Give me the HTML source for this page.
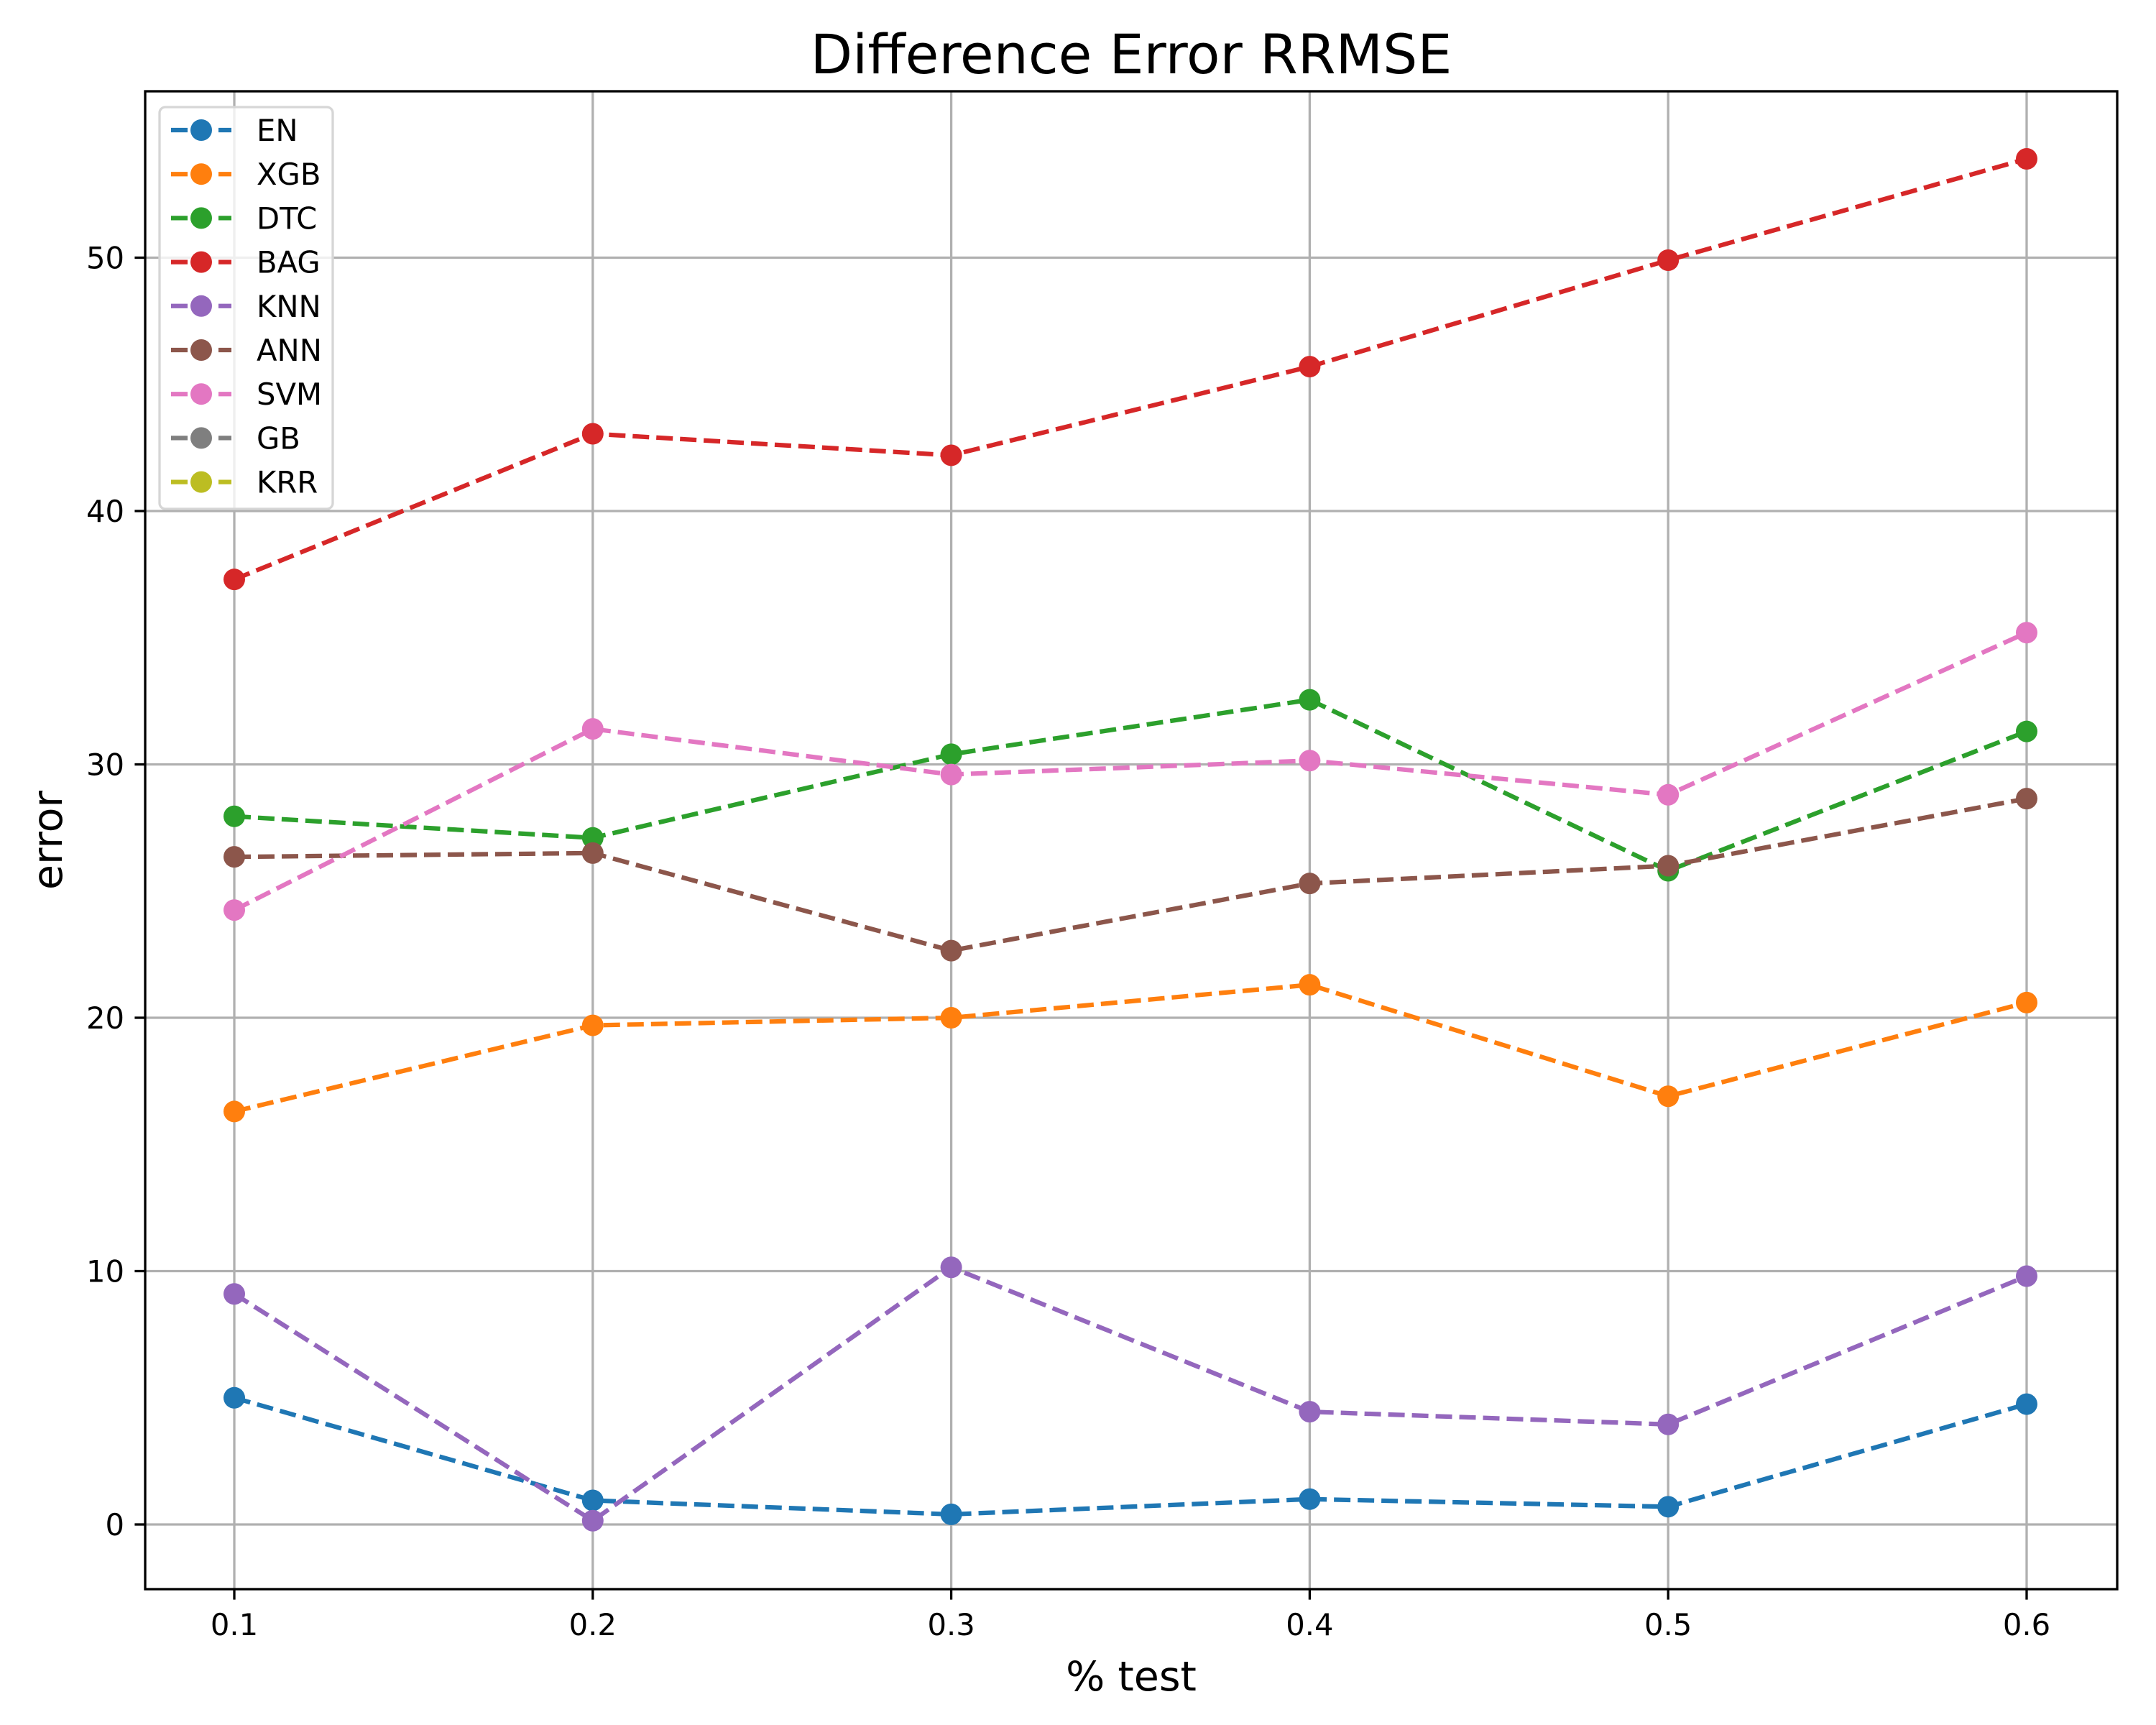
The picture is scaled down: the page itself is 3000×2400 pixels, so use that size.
<!DOCTYPE html>
<html><head><meta charset="utf-8"><style>
html,body{margin:0;padding:0;background:#fff}
svg{display:block;font-family:"DejaVu Sans","Liberation Sans",sans-serif}
</style></head><body>
<svg id="chart" width="3000" height="2400" viewBox="0 0 3000 2400" xmlns="http://www.w3.org/2000/svg">
<rect width="3000" height="2400" fill="#fff"/>
<g id="grid"></g>
<g id="series"></g>
<rect x="202" y="127" width="2744" height="2084" fill="none" stroke="#000" stroke-width="3.3"/>
<g id="ticks"></g>
<text x="1574" y="102" font-size="76" text-anchor="middle">Difference Error RRMSE</text>
<text x="1574" y="2352" font-size="57" text-anchor="middle">% test</text>
<text x="86" y="1169" font-size="57" text-anchor="middle" transform="rotate(-90 86 1169)">error</text>
<g id="legend"></g>
</svg>
<script>
const categories = [0.1, 0.2, 0.3, 0.4, 0.5, 0.6];
const xTickLabels = ["0.1","0.2","0.3","0.4","0.5","0.6"];
const yTicks = [0, 10, 20, 30, 40, 50];
const seriesNames = ["EN","XGB","DTC","BAG","KNN","ANN","SVM","GB","KRR"];
const seriesColors = ["#1f77b4","#ff7f0e","#2ca02c","#d62728","#9467bd","#8c564b","#e377c2","#7f7f7f","#bcbd22"];
const enValues  = [5.0, 0.95, 0.4, 1.0, 0.7, 4.75];
const xgbValues = [16.3, 19.7, 20.0, 21.3, 16.9, 20.6];
const dtcValues = [27.95, 27.1, 30.4, 32.55, 25.8, 31.3];
const bagValues = [37.3, 43.05, 42.2, 45.7, 49.9, 53.9];
const knnValues = [9.1, 0.15, 10.15, 4.45, 3.95, 9.8];
const annValues = [26.35, 26.5, 22.65, 25.3, 26.0, 28.65];
const svmValues = [24.25, 31.4, 29.6, 30.15, 28.8, 35.2];
const gbValues  = [];
const krrValues = [];
const allValues = [enValues,xgbValues,dtcValues,bagValues,knnValues,annValues,svmValues,gbValues,krrValues];

const NS = "http://www.w3.org/2000/svg";
const L=202,R=2946,T=127,B=2211;
function xs(v){ return 326 + (v-0.1)*(2820-326)/0.5; }
function ys(v){ return 2121 - v*(2121-358.5)/50; }
function mk(tag, attrs, parent){ const e=document.createElementNS(NS,tag); for(const k in attrs) e.setAttribute(k,attrs[k]); parent.appendChild(e); return e; }
const grid=document.getElementById('grid'), ticks=document.getElementById('ticks'), series=document.getElementById('series'), legend=document.getElementById('legend');

categories.forEach((c,i)=>{
  const x=xs(c);
  const g=mk('line',{x1:x,x2:x,y1:T,y2:B,stroke:'#b0b0b0','stroke-width':3.3},grid);
  
  
  const t=mk('line',{x1:x,x2:x,y1:B,y2:B+14.6,stroke:'#000','stroke-width':3.3},ticks);
  
  
  const lb=mk('text',{x:x,y:B+64,'font-size':41.7,'text-anchor':'middle'},ticks);
  lb.textContent=xTickLabels[i];
  
  
});
yTicks.forEach(v=>{
  const y=ys(v);
  const g=mk('line',{x1:L,x2:R,y1:y,y2:y,stroke:'#b0b0b0','stroke-width':3.3},grid);
  
  
  const t=mk('line',{x1:L-14.6,x2:L,y1:y,y2:y,stroke:'#000','stroke-width':3.3},ticks);
  
  
  const lb=mk('text',{x:L-29,y:y+15,'font-size':41.7,'text-anchor':'end'},ticks);
  lb.textContent=String(v);
  
  
});

allValues.forEach((vals,si)=>{
  if(!vals.length) return;
  const col=seriesColors[si];
  const g=mk('g',{},series);
  
  
  const pts=vals.map((v,i)=>xs(categories[i])+','+ys(v)).join(' ');
  const pl=mk('polyline',{points:pts,fill:'none',stroke:col,'stroke-width':6.25,'stroke-dasharray':'23,10'},g);
  
  
  vals.forEach((v,i)=>{
    const c=mk('circle',{cx:xs(categories[i]),cy:ys(v),r:15,fill:col},g);
    
    
  });
});

const box=mk('rect',{x:222,y:149,width:241,height:559,rx:8,fill:'#fff','fill-opacity':0.8,stroke:'#d6d6d6','stroke-width':3.3},legend);


seriesNames.forEach((n,i)=>{
  const y=181+i*61.2;
  const col=seriesColors[i];
  const g=mk('g',{},legend);
  
  
  mk('line',{x1:238,x2:322,y1:y,y2:y,stroke:col,'stroke-width':6.25,'stroke-dasharray':'23,10'},g);
  mk('circle',{cx:280,cy:y,r:15,fill:col},g);
  const t=mk('text',{x:357,y:y+15,'font-size':41.7},g);
  t.textContent=n;
});
</script>
</body></html>
